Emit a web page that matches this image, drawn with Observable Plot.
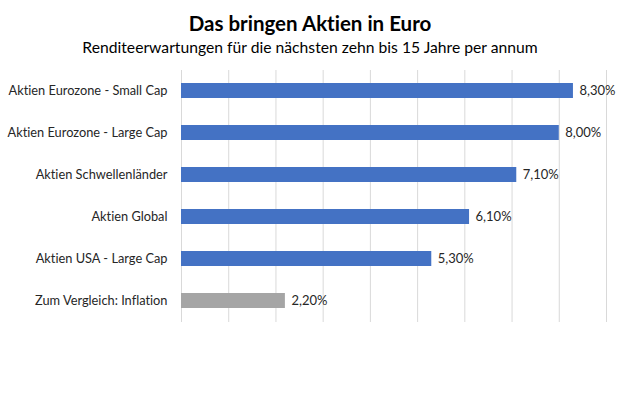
<!DOCTYPE html>
<html><head><meta charset="utf-8">
<script src="https://cdn.jsdelivr.net/npm/d3@7"></script>
<script src="https://cdn.jsdelivr.net/npm/@observablehq/plot@0.6"></script>
<style>
body{margin:0;background:#fff;font-family:Lato,"Open Sans",sans-serif;font-variant-ligatures:none;font-feature-settings:"liga" 0,"clig" 0;}
#wrap{width:620px;}
#title{height:35px;padding-top:9px;box-sizing:border-box;line-height:28px;text-align:center;font-size:20.5px;font-weight:bold;color:#000;}
#sub{height:25px;line-height:24px;text-align:center;font-size:15.7px;color:#000;}
#chart{height:353px;}
#chart svg{display:block;font-variant-ligatures:none;font-feature-settings:"liga" 0,"clig" 0;}
</style></head>
<body><div id="wrap"><div id="title">Das bringen Aktien in Euro</div><div id="sub">Renditeerwartungen für die nächsten zehn bis 15 Jahre per annum</div><div id="chart"></div></div>
<script>
const categories = ["Aktien Eurozone - Small Cap","Aktien Eurozone - Large Cap","Aktien Schwellenländer","Aktien Global","Aktien USA - Large Cap","Zum Vergleich: Inflation"];
const values = [8.3, 8.0, 7.1, 6.1, 5.3, 2.2];
const groups = ["Aktien","Aktien","Aktien","Aktien","Aktien","Inflation"];
const gridTicks = [0,1,2,3,4,5,6,7,8,9];

const data = categories.map((c,i)=>({cat:c, v:values[i], g:groups[i]}));
const fmt = v => d3.format(".2f")(v).replace(".", ",") + "%";

const plot = Plot.plot({
  width: 620, height: 353,
  marginTop: 10, marginBottom: 91, marginLeft: 181, marginRight: 14,
  style: {fontFamily: "Lato, 'Open Sans', sans-serif", fontSize: "12.8px", color: "#262626"},
  x: {domain: [0, 9], axis: null},
  y: {domain: categories, paddingInner: 0.64, paddingOuter: 0.32, label: null, tickSize: 0, tickPadding: 14},
  color: {domain: ["Aktien","Inflation"], range: ["#4472C4","#A5A5A5"]},
  marks: [
    Plot.ruleX(gridTicks, {stroke: "#d9d9d9", strokeWidth: 1}),
    Plot.barX(data, {x: "v", y: "cat", fill: "g"}),
    Plot.text(data, {x: "v", y: "cat", text: d => fmt(d.v), textAnchor: "start", dx: 6, fill: "#262626", fontSize: 13})
  ]
});
document.getElementById("chart").appendChild(plot);
</script></body></html>
